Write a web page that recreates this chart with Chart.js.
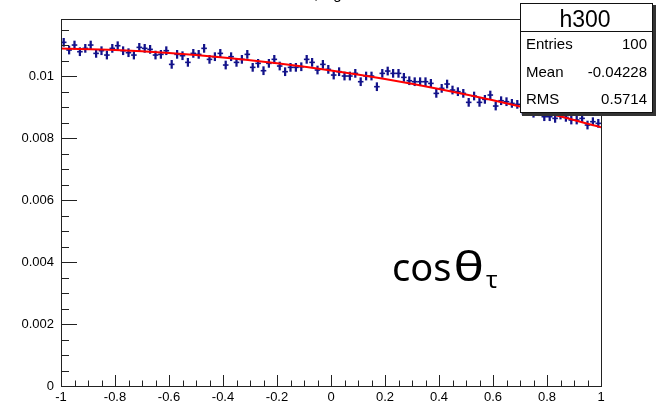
<!DOCTYPE html>
<html>
<head>
<meta charset="utf-8">
<script src="https://cdn.jsdelivr.net/npm/chart.js@4/dist/chart.umd.min.js"></script>
<style>
html,body{margin:0;padding:0;background:#fff;}
#wrap{width:656px;height:404px;position:relative;}
</style>
</head>
<body>
<div id="wrap"><canvas id="c" width="656" height="404"></canvas></div>
<script>
// ---- histogram definition ----
const nBins = 100;
const xMin = -1, xMax = 1;
const yMin = 0, yMax = 0.01184;

// bin contents (bins 0..99)
const binValues = [
  0.011087, 0.010839, 0.011000, 0.010785, 0.010893, 0.011000, 0.010731, 0.010817, 0.010677, 0.010893,
  0.010978, 0.010817, 0.010753, 0.010677, 0.010925, 0.010893, 0.010860, 0.010677, 0.010699, 0.010817,
  0.010376, 0.010699, 0.010656, 0.010441, 0.010731, 0.010699, 0.010893, 0.010538, 0.010624, 0.010731,
  0.010355, 0.010624, 0.010441, 0.010538, 0.010699, 0.010280, 0.010409, 0.010172, 0.010409, 0.010538,
  0.010323, 0.010140, 0.010280, 0.010280, 0.010300, 0.010538, 0.010441, 0.010194, 0.010376, 0.010215,
  0.010032, 0.010140, 0.010000, 0.010000, 0.010086, 0.009817, 0.010000, 0.010000, 0.009656, 0.010086,
  0.010161, 0.010086, 0.010086, 0.009957, 0.009849, 0.009817, 0.009817, 0.009817, 0.009763, 0.009441,
  0.009602, 0.009742, 0.009548, 0.009495, 0.009441, 0.009151, 0.009355, 0.009151, 0.009247, 0.009387,
  0.009032, 0.009204, 0.009172, 0.009118, 0.009086, 0.008900, 0.008940, 0.008800, 0.008850, 0.008688,
  0.008688, 0.008634, 0.008742, 0.008667, 0.008581, 0.008581, 0.008634, 0.008419, 0.008527, 0.008473
];
// bin error (same for all bins)
const binError = 0.00013;

// fit curve
const fitX = [-1, -0.8, -0.6, -0.4, -0.2, 0, 0.2, 0.4, 0.6, 0.8, 1];
const fitY = [0.01089, 0.010838, 0.01074, 0.010598, 0.010412, 0.01018, 0.009904, 0.009582, 0.009216, 0.008805, 0.00835];

// tick labels
const xTickVals = [-1, -0.8, -0.6, -0.4, -0.2, 0, 0.2, 0.4, 0.6, 0.8, 1];
const xTickLabels = ["-1", "-0.8", "-0.6", "-0.4", "-0.2", "0", "0.2", "0.4", "0.6", "0.8", "1"];
const yTickVals = [0, 0.002, 0.004, 0.006, 0.008, 0.01];
const yTickLabels = ["0", "0.002", "0.004", "0.006", "0.008", "0.01"];
const xMinorStep = 0.05, yMinorStep = 0.0005;

// stats box
const statsTitle = "h300";
const statsNames = ["Entries", "Mean", "RMS"];
const statsValues = ["100", "-0.04228", "0.5714"];
const histTitle = "cos\u03b8, signal";

// ---- build datasets ----
const binW = (xMax - xMin) / nBins;
const centers = binValues.map((v, i) => xMin + (i + 0.5) * binW);
const pts = binValues.map((v, i) => ({x: centers[i], y: v}));
const errBars = binValues.map((v, i) => ({x: centers[i], y: [v - binError, v + binError]}));
const fitPts = fitX.map((x, i) => ({x: x, y: fitY[i]}));

const FONT = '"Liberation Sans", Arial, sans-serif';
const BLUE = '#12128a';

const rootPlugin = {
  id: 'rootStyle',
  afterDatasetsDraw(chart) {
    const ctx = chart.ctx;
    const xs = chart.scales.x, ys = chart.scales.y;
    const a = chart.chartArea;
    ctx.save();
    ctx.strokeStyle = '#222';
    ctx.lineWidth = 1;
    // frame
    ctx.strokeRect(Math.round(a.left) + 0.5, Math.round(a.top) + 0.5,
                   Math.round(a.right - a.left), Math.round(a.bottom - a.top));
    // x ticks
    ctx.beginPath();
    const nxm = Math.round((xMax - xMin) / xMinorStep);
    for (let k = 0; k <= nxm; k++) {
      const v = xMin + k * xMinorStep;
      const major = (k % 4) === 0;
      const px = Math.round(xs.getPixelForValue(v)) + 0.5;
      ctx.moveTo(px, a.bottom);
      ctx.lineTo(px, a.bottom - (major ? 11 : 5.5));
    }
    // y ticks
    const nym = Math.floor((yMax - yMin) / yMinorStep + 1e-6);
    for (let k = 0; k <= nym; k++) {
      const v = yMin + k * yMinorStep;
      const major = (k % 4) === 0;
      const py = Math.round(ys.getPixelForValue(v)) + 0.5;
      ctx.moveTo(a.left, py);
      ctx.lineTo(a.left + (major ? 16 : 8), py);
    }
    ctx.stroke();
    ctx.restore();
  },
  afterDraw(chart) {
    const ctx = chart.ctx;
    ctx.save();
    // title (mostly outside the canvas, only descenders visible)
    ctx.fillStyle = '#000';
    ctx.font = '15px ' + FONT;
    ctx.textBaseline = 'alphabetic';
    ctx.textAlign = 'center';
    ctx.fillText(histTitle, 322, -1);

    // big label
    ctx.fillStyle = '#000';
    ctx.textAlign = 'left';
    ctx.font = '38px "Noto Sans", sans-serif';
    ctx.fillText('cos', 392, 281);
    const w = ctx.measureText('cos').width;
    ctx.save();
    ctx.translate(392 + w + 2, 281);
    ctx.scale(1.35, 1.05);
    ctx.font = '38px "Noto Sans", sans-serif';
    ctx.fillText('\u03b8', 0, 0);
    const tw = ctx.measureText('\u03b8').width * 1.35;
    ctx.restore();
    ctx.font = '24px "Noto Sans", sans-serif';
    ctx.fillText('\u03c4', 392 + w + 2 + tw + 2, 288);

    // stats box
    const L = 520, T = 3, R = 653, B = 113;
    ctx.fillStyle = '#333';
    ctx.fillRect(L + 2, T + 2, R - L + 1, B - T + 1);
    ctx.fillStyle = '#fff';
    ctx.fillRect(L, T, R - L, B - T);
    ctx.strokeStyle = '#111';
    ctx.lineWidth = 1;
    ctx.strokeRect(L + 0.5, T + 0.5, R - L - 1, B - T - 1);
    ctx.beginPath();
    ctx.moveTo(L, 31.5); ctx.lineTo(R, 31.5);
    ctx.stroke();
    ctx.fillStyle = '#000';
    ctx.textAlign = 'center';
    ctx.font = '23px ' + FONT;
    ctx.fillText(statsTitle, 585, 27);
    ctx.font = '15px ' + FONT;
    const rowsY = [49, 77, 104];
    for (let i = 0; i < statsNames.length; i++) {
      ctx.textAlign = 'left';
      ctx.fillText(statsNames[i], 526, rowsY[i]);
      ctx.textAlign = 'right';
      ctx.fillText(statsValues[i], 647, rowsY[i]);
    }
    ctx.restore();
  }
};

new Chart(document.getElementById('c'), {
  type: 'scatter',
  data: {
    datasets: [
      {
        type: 'line',
        label: 'fit',
        data: fitPts,
        borderColor: '#ff0000',
        borderWidth: 2,
        pointRadius: 0,
        cubicInterpolationMode: 'monotone',
        fill: false,
        order: 0
      },
      {
        label: 'xerr',
        data: pts,
        pointStyle: 'line',
        pointRadius: 2.8,
        pointBorderWidth: 1.6,
        pointBorderColor: BLUE,
        pointBackgroundColor: BLUE,
        order: 1
      },
      {
        type: 'bar',
        label: 'yerr',
        data: errBars,
        backgroundColor: BLUE,
        borderWidth: 0,
        barThickness: 1.6,
        grouped: false,
        order: 2
      }
    ]
  },
  options: {
    responsive: false,
    animation: false,
    events: [],
    layout: { padding: { top: 19, right: 55, left: 0, bottom: 0 } },
    plugins: { legend: { display: false }, tooltip: { enabled: false }, title: { display: false } },
    scales: {
      x: {
        type: 'linear',
        min: xMin, max: xMax,
        offset: false,
        grid: { display: false, drawTicks: false },
        border: { display: false },
        afterBuildTicks(s) { s.ticks = xTickVals.map(v => ({ value: v })); },
        afterFit(s) { s.height = 18; },
        ticks: {
          autoSkip: false, maxRotation: 0, minRotation: 0, padding: 4,
          color: '#000', font: { family: FONT, size: 13 },
          callback(v) { const i = xTickVals.findIndex(t => Math.abs(t - v) < 1e-9); return i >= 0 ? xTickLabels[i] : ''; }
        }
      },
      y: {
        type: 'linear',
        min: yMin, max: yMax,
        grid: { display: false, drawTicks: false },
        border: { display: false },
        afterBuildTicks(s) { s.ticks = yTickVals.map(v => ({ value: v })); },
        afterFit(s) { s.width = 61; },
        ticks: {
          autoSkip: false, padding: 7,
          color: '#000', font: { family: FONT, size: 13 },
          callback(v) { const i = yTickVals.findIndex(t => Math.abs(t - v) < 1e-9); return i >= 0 ? yTickLabels[i] : ''; }
        }
      }
    }
  },
  plugins: [rootPlugin]
});
</script>
</body>
</html>
